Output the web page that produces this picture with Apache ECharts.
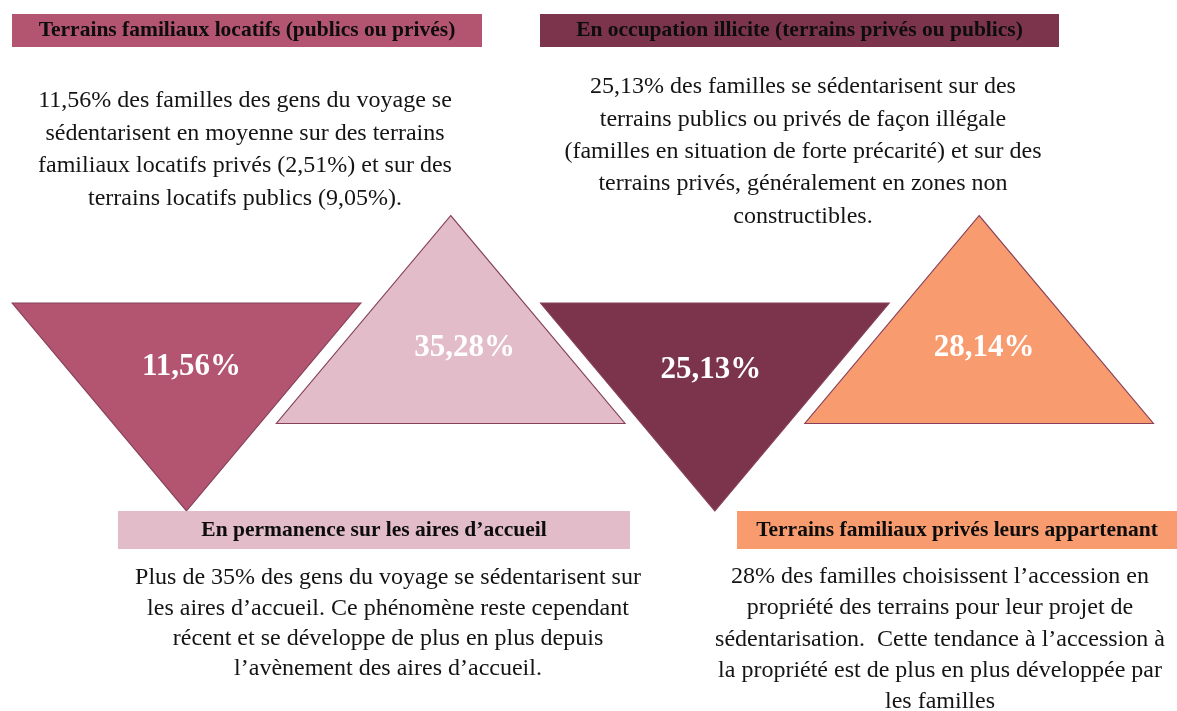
<!DOCTYPE html>
<html>
<head>
<meta charset="utf-8">
<script src="https://cdn.jsdelivr.net/npm/echarts@6/dist/echarts.min.js"></script>
<style>
html,body{margin:0;padding:0;background:#fff;}
#chart{width:1177px;height:711px;}
</style>
</head>
<body>
<div id="chart"></div>
<script>
// ---- data ----
const categories = [
  'Terrains familiaux locatifs (publics ou privés)',
  'En permanence sur les aires d\u2019accueil',
  'En occupation illicite (terrains privés ou publics)',
  'Terrains familiaux privés leurs appartenant'
];
const shares = [11.56, 35.28, 25.13, 28.14];
const orientation = ['down', 'up', 'down', 'up'];
const descriptions = [
  '11,56% des familles des gens du voyage se\nsédentarisent en moyenne sur des terrains\nfamiliaux locatifs privés (2,51%) et sur des\nterrains locatifs publics (9,05%).',
  'Plus de 35% des gens du voyage se sédentarisent sur\nles aires d\u2019accueil. Ce phénomène reste cependant\nrécent et se développe de plus en plus depuis\nl\u2019avènement des aires d\u2019accueil.',
  '25,13% des familles se sédentarisent sur des\nterrains publics ou privés de façon illégale\n(familles en situation de forte précarité) et sur des\nterrains privés, généralement en zones non\nconstructibles.',
  '28% des familles choisissent l\u2019accession en\npropriété des terrains pour leur projet de\nsédentarisation.  Cette tendance à l\u2019accession à\nla propriété est de plus en plus développée par\nles familles'
];
const colors = ['#b35470', '#e2bcc9', '#7b344c', '#f89b6f'];

// ---- layout / style ----
const serif = '"Liberation Serif", "Times New Roman", serif';
const labelOffsets = [[5, -40], [14, 28], [-4, -37], [5, 28]];
const headerBoxes = [
  {x: 12, y: 14, w: 470, h: 33},
  {x: 118, y: 511, w: 512, h: 38},
  {x: 540, y: 14, w: 519, h: 33},
  {x: 737, y: 511, w: 440, h: 38}
];
const textBlocks = [
  {x: 245, y: 85, lh: 32.4},
  {x: 388, y: 563, lh: 30.3},
  {x: 803, y: 71, lh: 32.3},
  {x: 940, y: 561, lh: 31.3}
];

const fmt = v => v.toFixed(2).replace('.', ',') + '%';

const seriesData = shares.map((v, i) => ({
  value: [i, orientation[i] === 'up' ? 1 : 0, v],
  symbolRotate: orientation[i] === 'up' ? 0 : 180,
  itemStyle: {color: colors[i]},
  label: {offset: labelOffsets[i]}
}));

const graphics = [];
categories.forEach((c, i) => {
  const b = headerBoxes[i];
  graphics.push({
    type: 'rect', z: 10,
    shape: {x: b.x, y: b.y, width: b.w, height: b.h},
    style: {fill: colors[i]}
  });
  graphics.push({
    type: 'text', z: 11,
    x: b.x + b.w / 2, y: b.y + b.h / 2,
    style: {
      text: c, fill: '#0d0d0d', font: 'bold 21.5px ' + serif,
      align: 'center', verticalAlign: 'middle'
    }
  });
  const t = textBlocks[i];
  graphics.push({
    type: 'text', z: 11,
    x: t.x, y: t.y,
    style: {
      text: descriptions[i], fill: '#141414', font: '24px ' + serif,
      align: 'center', verticalAlign: 'top', lineHeight: t.lh
    }
  });
});

const chart = echarts.init(document.getElementById('chart'), null, {renderer: 'canvas'});
chart.setOption({
  animation: false,
  backgroundColor: '#ffffff',
  grid: {left: 54.4, right: 65.8, top: 319.5, bottom: 304},
  xAxis: {type: 'category', data: categories, show: false, boundaryGap: true},
  yAxis: {type: 'value', min: 0, max: 1, show: false},
  graphic: graphics,
  series: [{
    type: 'scatter',
    symbol: 'triangle',
    symbolSize: [349, 208],
    z: 5,
    itemStyle: {borderColor: '#86405a', borderWidth: 1, opacity: 1},
    emphasis: {disabled: true},
    silent: true,
    label: {
      show: true, position: 'inside',
      formatter: p => fmt(p.value[2]),
      color: '#ffffff', fontFamily: serif, fontWeight: 'bold', fontSize: 31
    },
    data: seriesData
  }]
});
</script>
</body>
</html>
